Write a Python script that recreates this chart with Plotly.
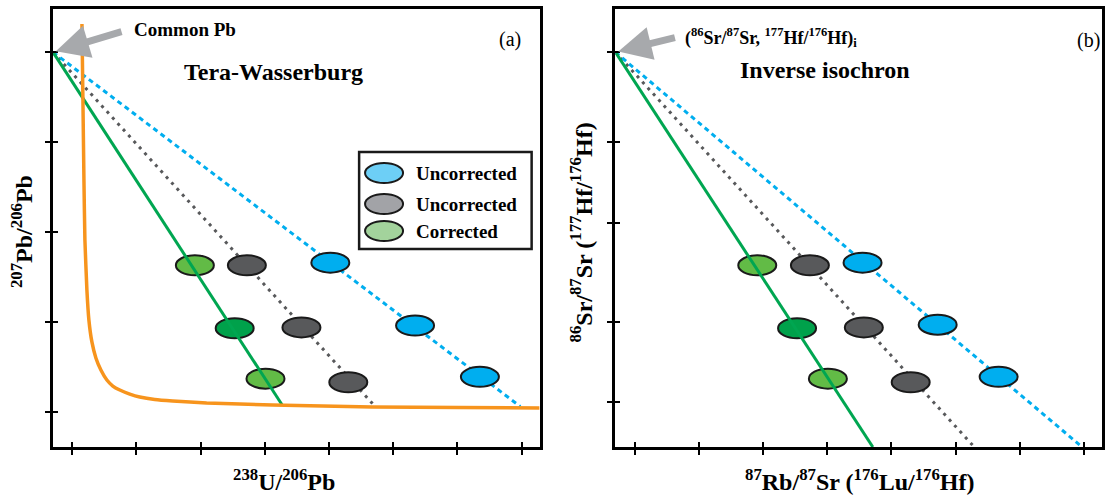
import plotly.graph_objects as go

# ---------------- data ----------------
# shared initial-ratio point on the left axis where all mixing lines start
x_common = -0.3
y_common = 4.0

x_ticks = [0, 1, 2, 3, 4, 5, 6, 7]
y_ticks_a = [0, 1, 2, 3, 4]
y_ticks_b = [0.11, 1, 2.1, 3, 4]

# (a) Tera-Wasserburg: analyses and regression-line end points
a_green_x = [1.91, 2.53, 3.01]
a_green_y = [1.63, 0.93, 0.37]
a_gray_x = [2.72, 3.57, 4.30]
a_gray_y = [1.63, 0.94, 0.33]
a_blue_x = [4.02, 5.34, 6.35]
a_blue_y = [1.66, 0.96, 0.39]
a_end_x = [3.27, 4.70, 6.98]          # green, gray, blue
a_end_y = [0.077, 0.075, 0.06]

# (a) concordia curve
concordia_x = [0.151, 0.166, 0.182, 0.197, 0.228, 0.259, 0.306, 0.368, 0.446,
               0.539, 0.632, 0.741, 0.896, 1.051, 1.285, 1.565, 2.093, 3.118,
               4.671, 6.023, 7.281]
concordia_y = [4.313, 3.468, 2.579, 1.912, 1.356, 1.022, 0.778, 0.600, 0.466,
               0.355, 0.288, 0.244, 0.199, 0.166, 0.138, 0.121, 0.099, 0.077,
               0.055, 0.049, 0.043]

# (b) inverse isochron: analyses and regression-line end points
b_green_x = [1.91, 2.53, 3.01]
b_green_y = [1.63, 0.93, 0.37]
b_gray_x = [2.73, 3.57, 4.30]
b_gray_y = [1.63, 0.94, 0.33]
b_blue_x = [3.55, 4.72, 5.67]
b_blue_y = [1.66, 0.97, 0.39]
b_end_x = [3.71, 5.29, 6.97]
b_end_y = [-0.39, -0.39, -0.39]

legend_labels = ["Uncorrected", "Uncorrected", "Corrected"]

# ---------------- styles ----------------
BLUE = "#00aeef"
GRAY = "#58595b"
GREEN_LINE = "#00a651"
GREEN_LIGHT = "#62bb46"
GREEN_DARK = "#00a14b"
ORANGE = "#f7941d"
ARROW = "#a7a9ac"
LEG_FILLS = ["#6dcff6", "#a2a3a7", "#a3d39c"]
green_fills = [GREEN_LIGHT, GREEN_DARK, GREEN_LIGHT]

SERIF = "Liberation Serif, Times New Roman, serif"

W, H = 1107, 495
L, R, T, B = 53, 2, 9, 48
PW, PH = W - L - R, H - T - B

X_RANGE = [-0.3, 7.28]
Y_RANGE = [-0.39, 4.48]


def paper(px, py):
    return (px - L) / PW, (H - B - py) / PH


fig = go.Figure()


def add_line(xa, ya, x_end, y_end, color, dash):
    fig.add_trace(go.Scatter(
        x=[x_common, x_end], y=[y_common, y_end], mode="lines",
        line=dict(color=color, width=3, dash=dash),
        xaxis=xa, yaxis=ya, showlegend=False, hoverinfo="skip"))


# regression lines
add_line("x", "y", a_end_x[1], a_end_y[1], GRAY, "3px,5px")
add_line("x", "y", a_end_x[2], a_end_y[2], BLUE, "5px,4px")
add_line("x", "y", a_end_x[0], a_end_y[0], GREEN_LINE, "solid")
add_line("x2", "y2", b_end_x[1], b_end_y[1], GRAY, "3px,5px")
add_line("x2", "y2", b_end_x[2], b_end_y[2], BLUE, "5px,4px")
add_line("x2", "y2", b_end_x[0], b_end_y[0], GREEN_LINE, "solid")

# concordia
fig.add_trace(go.Scatter(
    x=concordia_x, y=concordia_y, mode="lines",
    line=dict(color=ORANGE, width=3.5, shape="spline", smoothing=0.4),
    xaxis="x", yaxis="y", showlegend=False, hoverinfo="skip"))

# invisible traces so the overlay tick axes are drawn
for xa, ya in (("x3", "y3"), ("x4", "y4")):
    fig.add_trace(go.Scatter(x=[None], y=[None], xaxis=xa, yaxis=ya,
                             showlegend=False, hoverinfo="skip"))

shapes = []


def ellipse(xref, yref, cx, cy, fill, layer="above"):
    return dict(type="circle", xref=xref, yref=yref,
                xsizemode="pixel", ysizemode="pixel",
                xanchor=cx, yanchor=cy, x0=-19, x1=19, y0=-10, y1=10,
                fillcolor=fill, line=dict(color="#1a1a1a", width=2),
                layer=layer)


for xr, yr, gx, gy, kx, ky, bx, by in (
        ("x", "y", a_green_x, a_green_y, a_gray_x, a_gray_y, a_blue_x, a_blue_y),
        ("x2", "y2", b_green_x, b_green_y, b_gray_x, b_gray_y, b_blue_x, b_blue_y)):
    for i in range(3):
        shapes.append(ellipse(xr, yr, gx[i], gy[i], green_fills[i], layer="below"))
        shapes.append(ellipse(xr, yr, kx[i], ky[i], GRAY))
        shapes.append(ellipse(xr, yr, bx[i], by[i], BLUE))

# legend box
lx0, ly0 = paper(360, 152)
lx1, ly1 = paper(533, 249)
shapes.append(dict(type="rect", xref="paper", yref="paper",
                   x0=lx0, y0=ly1, x1=lx1, y1=ly0,
                   fillcolor="white", line=dict(color="#1a1a1a", width=2.5)))

annotations = []
leg_rows = [173, 204, 231]
for row, fill, label in zip(leg_rows, LEG_FILLS, legend_labels):
    ex, ey = paper(385, row)
    shapes.append(ellipse("paper", "paper", ex, ey, fill))
    tx, ty = paper(415, row)
    annotations.append(dict(x=tx, y=ty, xref="paper", yref="paper",
                            text=f"<b>{label}</b>", showarrow=False,
                            xanchor="left", yanchor="middle",
                            font=dict(family=SERIF, size=19, color="black")))


def text(px, py, s, size, anchor="left", angle=0, bold=True):
    x, y = paper(px, py)
    annotations.append(dict(x=x, y=y, xref="paper", yref="paper",
                            text=f"<b>{s}</b>" if bold else s, showarrow=False,
                            xanchor=anchor, yanchor="middle", textangle=angle,
                            font=dict(family=SERIF, size=size, color="black")))


text(132, 29, "Common Pb", 19)
text(182, 72, "Tera-Wasserburg", 24)
text(740, 70, "Inverse isochron", 24)
text(685, 37, "(<sup>86</sup>Sr/<sup>87</sup>Sr, <sup>177</sup>Hf/<sup>176</sup>Hf)<sub>i</sub>", 18)
text(511, 39, "(a)", 20, anchor="center", bold=False)
text(1091, 40, "(b)", 20, anchor="center", bold=False)
text(285, 480, "<sup>238</sup>U/<sup>206</sup>Pb", 24, anchor="center")
text(862, 480, "<sup>87</sup>Rb/<sup>87</sup>Sr (<sup>176</sup>Lu/<sup>176</sup>Hf)", 24, anchor="center")
text(22, 232, "<sup>207</sup>Pb/<sup>206</sup>Pb", 24, anchor="center", angle=-90)
text(583, 232, "<sup>86</sup>Sr/<sup>87</sup>Sr (<sup>177</sup>Hf/<sup>176</sup>Hf)", 24, anchor="center", angle=-90)

# grey arrows pointing at the common starting point
for xr, yr, ax, ay in (("x", "y", 70, -21), ("x2", "y2", 61, -15)):
    annotations.append(dict(x=x_common, y=y_common, xref=xr, yref=yr,
                            ax=ax, ay=ay, text="", showarrow=True,
                            arrowhead=2, arrowsize=0.95, arrowwidth=7,
                            arrowcolor=ARROW, standoff=3))

main_axis = dict(showline=True, linecolor="black", linewidth=3, mirror=True,
                 ticks="outside", ticklen=5, tickwidth=2, tickcolor="black",
                 showticklabels=False, showgrid=False, zeroline=False)
inner_axis = dict(showline=False, ticks="inside", ticklen=5, tickwidth=2,
                  tickcolor="black", showticklabels=False, showgrid=False,
                  zeroline=False)

dom_a = [0, 488 / PW]
dom_b = [(617 - L) / PW, 1]

fig.update_layout(
    width=W, height=H,
    margin=dict(l=L, r=R, t=T, b=B),
    paper_bgcolor="white", plot_bgcolor="white",
    showlegend=False,
    xaxis=dict(main_axis, domain=dom_a, range=X_RANGE, tickvals=x_ticks, anchor="y"),
    yaxis=dict(main_axis, domain=[0, 1], range=Y_RANGE, tickvals=y_ticks_a, anchor="x"),
    xaxis2=dict(main_axis, domain=dom_b, range=X_RANGE, tickvals=x_ticks, anchor="y2"),
    yaxis2=dict(main_axis, domain=[0, 1], range=Y_RANGE, tickvals=y_ticks_b, anchor="x2"),
    xaxis3=dict(inner_axis, overlaying="x", anchor="y", range=X_RANGE, tickvals=x_ticks),
    yaxis3=dict(inner_axis, overlaying="y", anchor="x", range=Y_RANGE, tickvals=y_ticks_a),
    xaxis4=dict(inner_axis, overlaying="x2", anchor="y2", range=X_RANGE, tickvals=x_ticks),
    yaxis4=dict(inner_axis, overlaying="y2", anchor="x2", range=Y_RANGE, tickvals=y_ticks_b),
    shapes=shapes,
    annotations=annotations,
)

fig.write_html("out.html")
